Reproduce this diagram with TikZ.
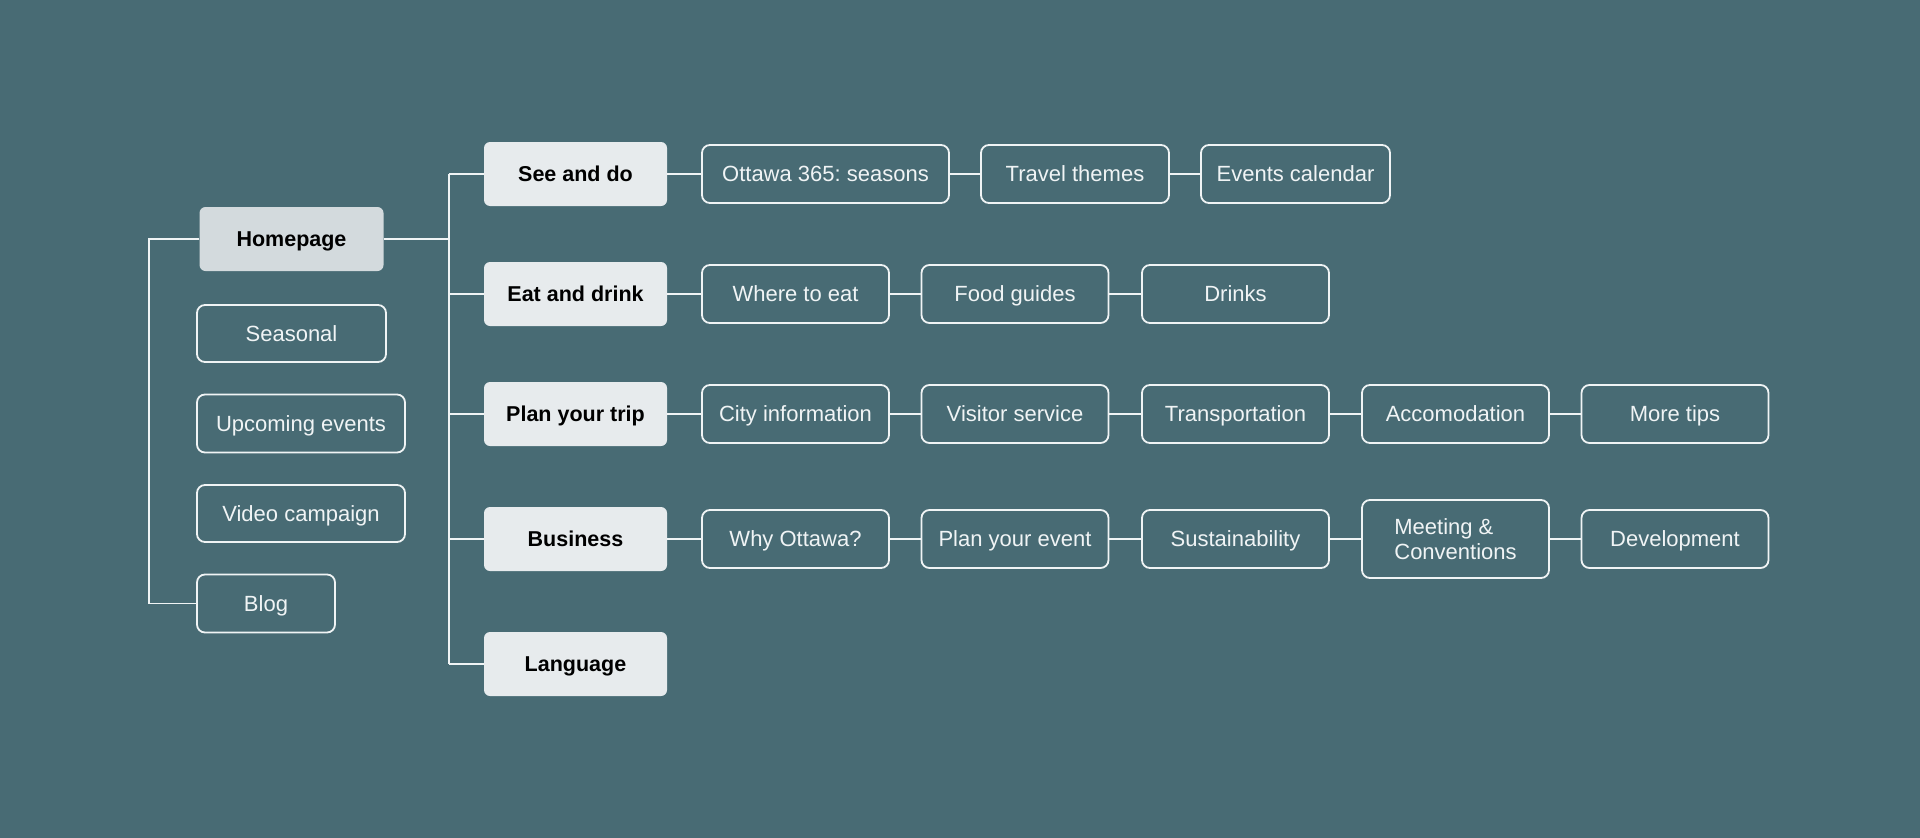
\documentclass[tikz,border=0pt]{standalone}
\usepackage{fontspec}
\setmainfont{Liberation Sans}
\frenchspacing
\definecolor{bg}{RGB}{72,107,116}
\definecolor{lonefill}{RGB}{231,235,237}
\definecolor{homefill}{RGB}{211,218,221}
\definecolor{lineclr}{RGB}{240,244,245}
\begin{document}
\begin{tikzpicture}[x=1pt,y=-1pt,
  lone/.style={rounded corners=6pt, fill=lonefill, minimum width=183pt, minimum height=64pt, inner sep=0pt, text height=15.5pt, text depth=0pt, font=\fontsize{21.5}{24}\selectfont\bfseries, text=black},
  homebox/.style={lone, fill=homefill, minimum width=184pt},
  ltwo/.style={draw=lineclr, line width=1.8pt, rounded corners=8pt, minimum width=187pt, minimum height=58pt, inner sep=0pt, text height=15.8pt, text depth=0pt, font=\fontsize{22}{24}\selectfont, text=lineclr},
  conn/.style={draw=lineclr, line width=1.8pt}]
\fill[bg] (0,0) rectangle (1920,838);
\useasboundingbox (0,0) rectangle (1920,838);

% left column
\node[homebox] (home) at (291.5,239) {Homepage};
\node[ltwo, minimum width=189pt, minimum height=57pt] (seasonal) at (291.5,333.5) {Seasonal};
\node[ltwo, minimum width=208pt] (upcoming) at (301,423.5) {Upcoming events};
\node[ltwo, minimum width=208pt, minimum height=57pt] (video) at (301,513.5) {Video campaign};
\node[ltwo, minimum width=138pt] (blog) at (266,603.5) {Blog};

% level 1
\node[lone] (see) at (575.5,174) {See and do};
\node[lone] (eat) at (575.5,294) {Eat and drink};
\node[lone] (plan) at (575.5,414) {Plan your trip};
\node[lone] (bus) at (575.5,539) {Business};
\node[lone] (lang) at (575.5,664) {Language};

% row 1
\node[ltwo, minimum width=247pt] (ott) at (825.5,174) {Ottawa 365: seasons};
\node[ltwo, minimum width=188pt] (themes) at (1075,174) {Travel themes};
\node[ltwo, minimum width=189pt] (cal) at (1295.5,174) {Events calendar};
% row 2
\node[ltwo] (where) at (795.5,294) {Where to eat};
\node[ltwo] (food) at (1015,294) {Food guides};
\node[ltwo] (drinks) at (1235.5,294) {Drinks};
% row 3
\node[ltwo] (city) at (795.5,414) {City information};
\node[ltwo] (visitor) at (1015,414) {Visitor service};
\node[ltwo] (trans) at (1235.5,414) {Transportation};
\node[ltwo] (accom) at (1455.5,414) {Accomodation};
\node[ltwo] (tips) at (1675,414) {More tips};
% row 4
\node[ltwo] (why) at (795.5,539) {Why Ottawa?};
\node[ltwo] (pevent) at (1015,539) {Plan your event};
\node[ltwo] (sust) at (1235.5,539) {Sustainability};
\node[ltwo, minimum height=78pt, align=left, text height=, text depth=, font=\fontsize{22}{25}\selectfont] (meet) at (1455.5,539) {Meeting \&\\Conventions};
\node[ltwo] (dev) at (1675,539) {Development};

% connectors
\coordinate (lx) at (149,0);
\coordinate (tx) at (449,0);
\draw[conn] (home.west) -- (home.west -| lx) |- (blog.west);
\draw[conn] (home.east) -- (home.east -| tx);
\draw[conn] (see.west -| tx) -- (lang.west -| tx);
\foreach \n in {see,eat,plan,bus,lang} \draw[conn] (\n.west -| tx) -- (\n.west);

\draw[conn] (see) -- (ott) (ott) -- (themes) (themes) -- (cal);
\draw[conn] (eat) -- (where) (where) -- (food) (food) -- (drinks);
\draw[conn] (plan) -- (city) (city) -- (visitor) (visitor) -- (trans) (trans) -- (accom) (accom) -- (tips);
\draw[conn] (bus) -- (why) (why) -- (pevent) (pevent) -- (sust) (sust) -- (meet) (meet) -- (dev);
\end{tikzpicture}
\end{document}
